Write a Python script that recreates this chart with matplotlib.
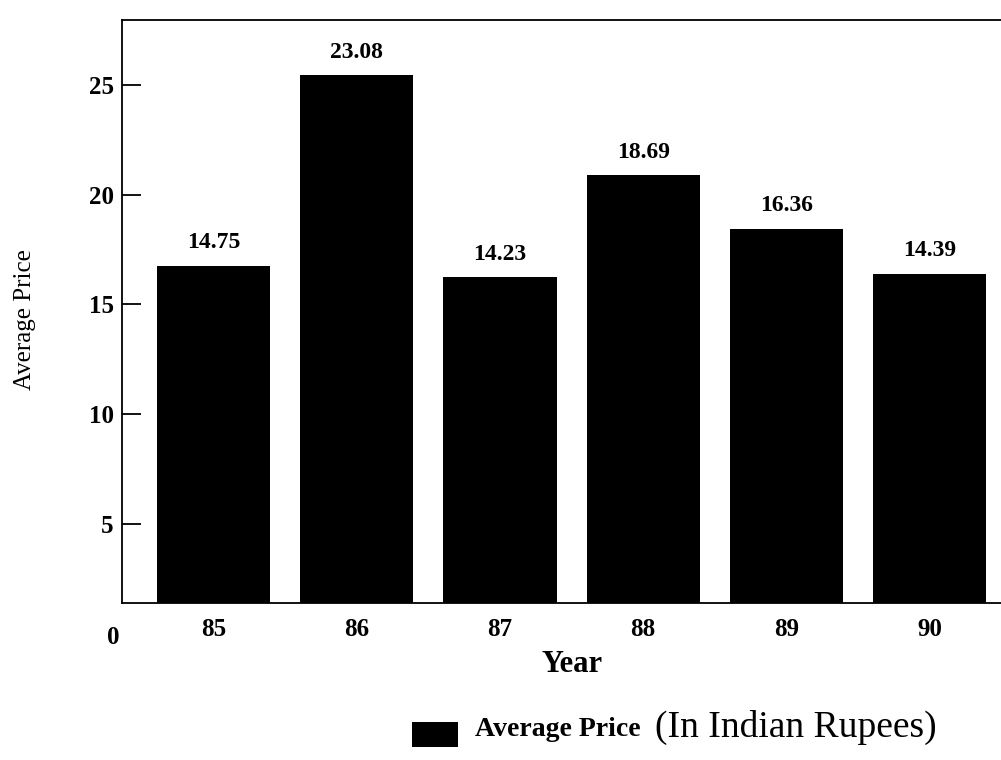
import numpy as np
import matplotlib.pyplot as plt
from matplotlib.patches import Rectangle

years = ['85', '86', '87', '88', '89', '90']
avg_price = [14.75, 23.08, 14.23, 18.69, 16.36, 14.39]
ytick_labels = [5, 10, 15, 20, 25]

plt.rcParams['font.family'] = 'Liberation Serif'

fig = plt.figure(figsize=(10.01, 7.6), dpi=100)
ax = fig.add_axes([0.122, 0.207, 0.898, 0.767])

x = np.arange(len(years))
bars = ax.bar(x, avg_price, width=0.79, color='black', edgecolor='none')

for xi, val in zip(x, avg_price):
    ax.annotate(f'{val:.2f}', (xi, val), xytext=(0, 9), textcoords='offset points',
                ha='center', va='bottom', fontsize=17, fontweight='bold')

ax.set_xlim(-0.64, len(years) - 0.36)
ax.set_ylim(0, 25.5)

ax.set_xticks(x)
ax.set_xticklabels(years, fontsize=18, fontweight='bold')
ax.tick_params(axis='x', length=0, pad=11)

# printed tick marks sit a little below the value they name
ytick_pos = np.array(ytick_labels) * 0.96 - 1.35
ax.set_yticks(ytick_pos)
ax.set_yticklabels([str(v) for v in ytick_labels], fontsize=18, fontweight='bold')
ax.tick_params(axis='y', direction='in', length=14, width=1.3, pad=6)

for side in ['left', 'top', 'bottom']:
    ax.spines[side].set_linewidth(1.3)
ax.spines['right'].set_visible(False)

fig.text(113 / 1001, 1 - 637 / 760, '0', ha='center', va='center',
         fontsize=18, fontweight='bold')
fig.text(25 / 1001, 1 - 320 / 760, 'Average Price', rotation=90,
         ha='center', va='center', fontsize=18)
fig.text(572 / 1001, 1 - 665 / 760, 'Year', ha='center', va='center',
         fontsize=22, fontweight='bold')

# legend row
fig.patches.append(Rectangle((412 / 1001, 1 - 747 / 760), 46 / 1001, 25 / 760,
                             transform=fig.transFigure, facecolor='black',
                             edgecolor='none'))
fig.text(475 / 1001, 1 - 730 / 760, 'Average Price', ha='left', va='center',
         fontsize=20, fontweight='bold')
fig.text(655 / 1001, 1 - 727 / 760, '(In Indian Rupees)', ha='left', va='center',
         fontsize=27)

fig.savefig('out.png', dpi=100, facecolor='white')
